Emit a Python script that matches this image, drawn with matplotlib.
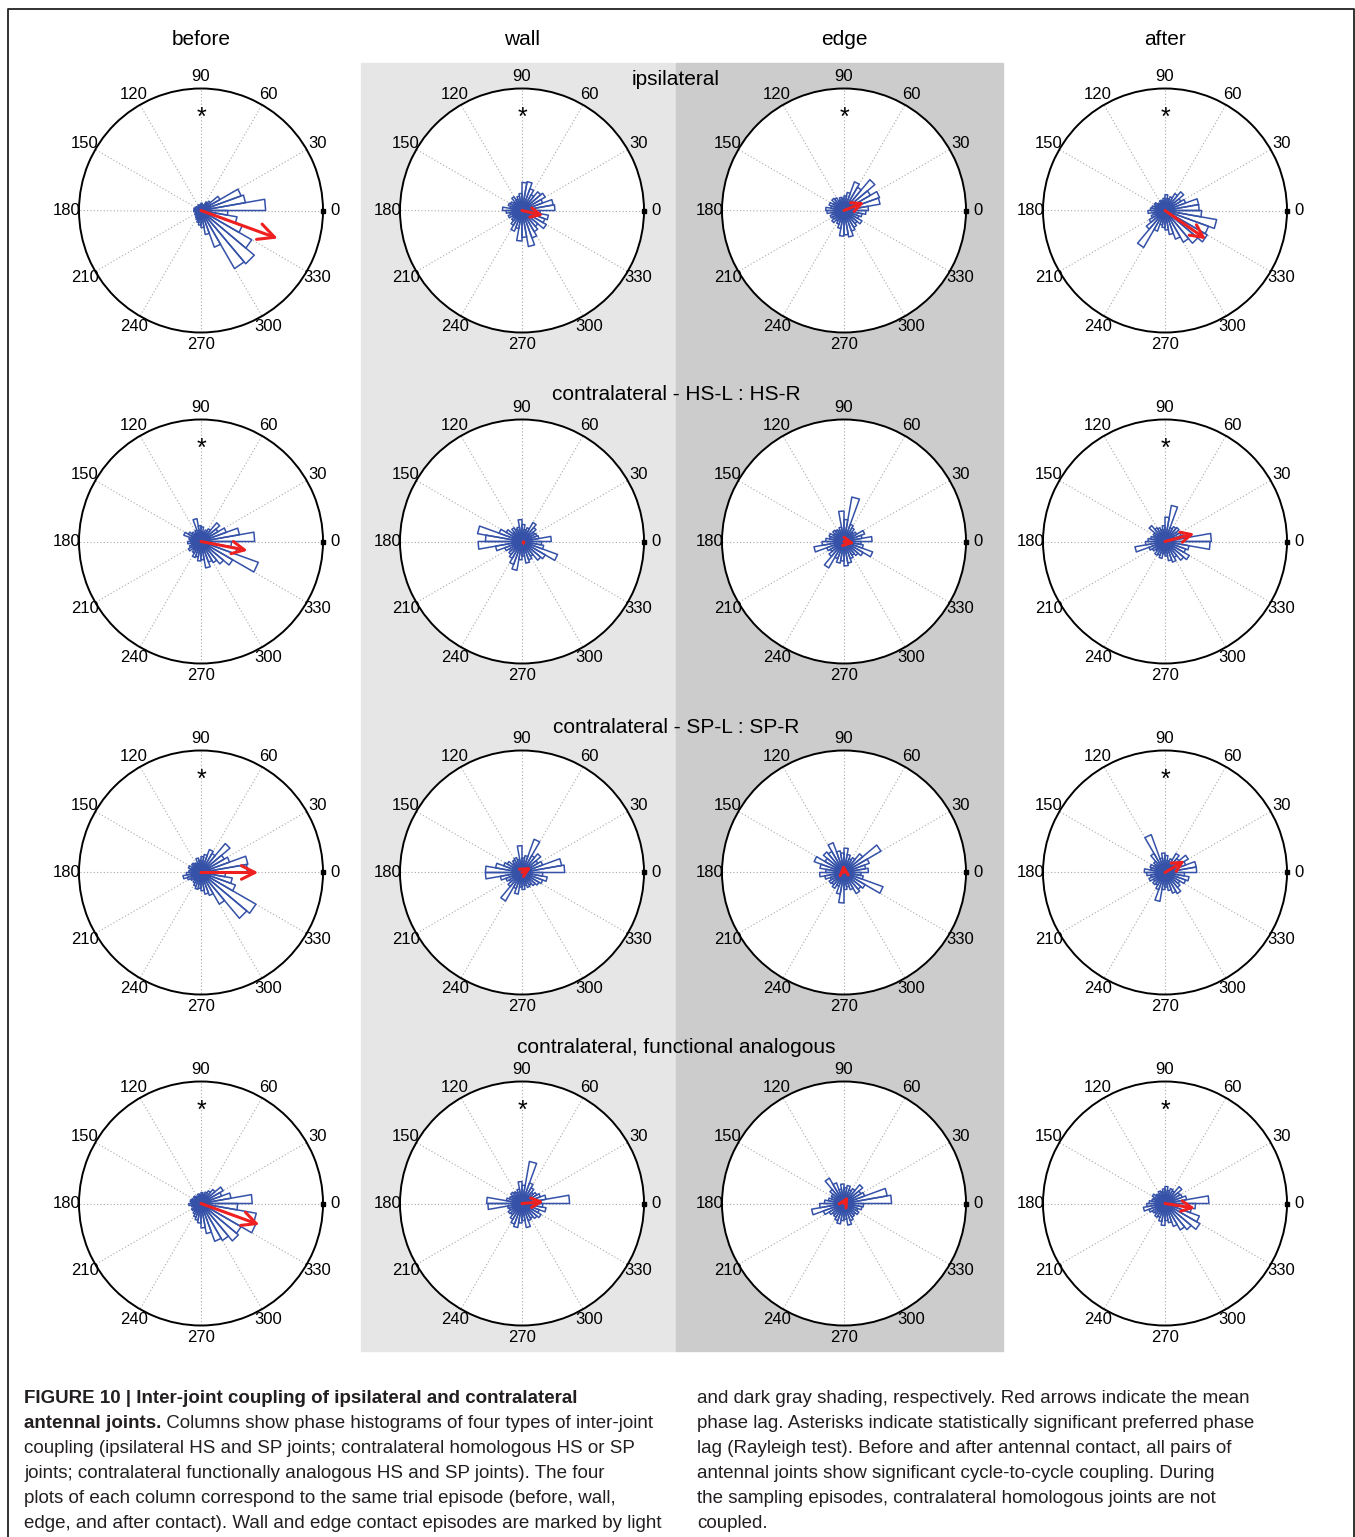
import numpy as np
import matplotlib
matplotlib.use('Agg')
import matplotlib.pyplot as plt
from matplotlib.lines import Line2D
from matplotlib.patches import Rectangle

plt.rcParams['font.family'] = ['Liberation Sans', 'DejaVu Sans']

W, H = 1355, 1537

columns = ['before', 'wall', 'edge', 'after']
row_titles = ['ipsilateral', 'contralateral - HS-L : HS-R',
              'contralateral - SP-L : SP-R', 'contralateral, functional analogous']

# rose histogram heights, 36 bins of 10 deg (bin k = 10k..10k+10 deg), fraction of max radius
ipsi_before = [0.53, 0.37, 0.35, 0.18, 0.10, 0.08, 0.05, 0.04, 0.06, 0.05, 0.04, 0.05,
               0.03, 0.04, 0.05, 0.04, 0.06, 0.05, 0.06, 0.04, 0.05, 0.06, 0.05, 0.07,
               0.08, 0.10, 0.12, 0.14, 0.20, 0.32, 0.55, 0.57, 0.48, 0.36, 0.30, 0.22]
ipsi_wall = [0.27, 0.26, 0.18, 0.22, 0.20, 0.15, 0.19, 0.24, 0.23, 0.14, 0.12, 0.10,
             0.13, 0.09, 0.11, 0.12, 0.10, 0.16, 0.13, 0.10, 0.12, 0.09, 0.11, 0.14,
             0.18, 0.15, 0.25, 0.22, 0.30, 0.24, 0.20, 0.17, 0.23, 0.20, 0.22, 0.15]
ipsi_edge = [0.20, 0.30, 0.31, 0.25, 0.33, 0.22, 0.25, 0.15, 0.12, 0.10, 0.11, 0.09,
             0.12, 0.13, 0.10, 0.13, 0.11, 0.15, 0.14, 0.10, 0.12, 0.11, 0.13, 0.10,
             0.12, 0.15, 0.21, 0.20, 0.22, 0.18, 0.16, 0.14, 0.17, 0.13, 0.15, 0.18]
ipsi_after = [0.28, 0.28, 0.18, 0.15, 0.20, 0.16, 0.12, 0.10, 0.13, 0.10, 0.08, 0.09,
              0.07, 0.08, 0.10, 0.09, 0.11, 0.12, 0.14, 0.10, 0.12, 0.15, 0.20, 0.35,
              0.18, 0.12, 0.14, 0.16, 0.20, 0.25, 0.30, 0.35, 0.40, 0.38, 0.43, 0.30]

hs_before = [0.44, 0.32, 0.22, 0.16, 0.20, 0.12, 0.10, 0.08, 0.12, 0.13, 0.19, 0.10,
             0.08, 0.10, 0.12, 0.15, 0.10, 0.09, 0.11, 0.08, 0.10, 0.12, 0.09, 0.11,
             0.14, 0.13, 0.16, 0.15, 0.22, 0.18, 0.20, 0.24, 0.30, 0.50, 0.30, 0.25]
hs_wall = [0.24, 0.14, 0.13, 0.12, 0.15, 0.18, 0.12, 0.10, 0.14, 0.18, 0.12, 0.11,
           0.13, 0.10, 0.15, 0.20, 0.37, 0.30, 0.36, 0.22, 0.15, 0.12, 0.14, 0.16,
           0.20, 0.24, 0.15, 0.12, 0.18, 0.16, 0.14, 0.20, 0.22, 0.31, 0.18, 0.16]
hs_edge = [0.23, 0.15, 0.18, 0.12, 0.10, 0.13, 0.15, 0.37, 0.18, 0.25, 0.12, 0.10,
           0.11, 0.12, 0.10, 0.13, 0.12, 0.15, 0.18, 0.25, 0.15, 0.13, 0.16, 0.25,
           0.15, 0.18, 0.16, 0.20, 0.18, 0.15, 0.13, 0.15, 0.18, 0.25, 0.16, 0.14]
hs_after = [0.38, 0.16, 0.14, 0.12, 0.15, 0.14, 0.12, 0.30, 0.20, 0.13, 0.10, 0.12,
            0.13, 0.17, 0.11, 0.10, 0.12, 0.14, 0.16, 0.25, 0.14, 0.12, 0.10, 0.13,
            0.12, 0.14, 0.10, 0.12, 0.16, 0.18, 0.15, 0.20, 0.23, 0.18, 0.20, 0.37]

sp_before = [0.38, 0.39, 0.25, 0.22, 0.31, 0.18, 0.20, 0.15, 0.13, 0.10, 0.12, 0.08,
             0.09, 0.10, 0.08, 0.11, 0.09, 0.10, 0.12, 0.15, 0.12, 0.10, 0.08, 0.10,
             0.12, 0.14, 0.13, 0.15, 0.18, 0.20, 0.30, 0.49, 0.52, 0.30, 0.26, 0.20]
sp_wall = [0.35, 0.33, 0.18, 0.15, 0.20, 0.16, 0.29, 0.14, 0.12, 0.22, 0.11, 0.13,
           0.12, 0.10, 0.14, 0.16, 0.22, 0.30, 0.30, 0.18, 0.14, 0.12, 0.15, 0.27,
           0.14, 0.18, 0.12, 0.14, 0.11, 0.13, 0.12, 0.14, 0.16, 0.18, 0.21, 0.17]
sp_edge = [0.20, 0.18, 0.22, 0.35, 0.20, 0.14, 0.12, 0.15, 0.20, 0.16, 0.18, 0.26,
           0.20, 0.22, 0.18, 0.26, 0.20, 0.15, 0.20, 0.16, 0.12, 0.14, 0.13, 0.15,
           0.12, 0.18, 0.25, 0.14, 0.12, 0.15, 0.20, 0.18, 0.20, 0.34, 0.16, 0.14]
sp_after = [0.26, 0.26, 0.18, 0.22, 0.15, 0.18, 0.12, 0.10, 0.14, 0.16, 0.12, 0.33,
            0.18, 0.12, 0.10, 0.13, 0.12, 0.17, 0.15, 0.12, 0.14, 0.11, 0.13, 0.12,
            0.15, 0.24, 0.14, 0.12, 0.15, 0.18, 0.20, 0.16, 0.14, 0.18, 0.20, 0.16]

fa_before = [0.42, 0.25, 0.18, 0.21, 0.15, 0.12, 0.10, 0.08, 0.09, 0.07, 0.08, 0.06,
             0.07, 0.08, 0.06, 0.08, 0.09, 0.08, 0.10, 0.08, 0.07, 0.09, 0.08, 0.10,
             0.12, 0.14, 0.16, 0.20, 0.25, 0.33, 0.35, 0.40, 0.38, 0.48, 0.46, 0.30]
fa_wall = [0.39, 0.20, 0.16, 0.14, 0.12, 0.15, 0.18, 0.35, 0.15, 0.18, 0.12, 0.10,
           0.11, 0.12, 0.10, 0.11, 0.13, 0.29, 0.28, 0.12, 0.11, 0.13, 0.12, 0.15,
           0.18, 0.20, 0.16, 0.14, 0.20, 0.15, 0.14, 0.16, 0.18, 0.15, 0.20, 0.17]
fa_edge = [0.39, 0.36, 0.18, 0.16, 0.20, 0.14, 0.12, 0.15, 0.13, 0.16, 0.12, 0.18,
           0.24, 0.15, 0.12, 0.11, 0.13, 0.16, 0.20, 0.27, 0.18, 0.14, 0.12, 0.13,
           0.15, 0.17, 0.14, 0.13, 0.18, 0.15, 0.13, 0.12, 0.14, 0.12, 0.15, 0.16]
fa_after = [0.36, 0.18, 0.15, 0.14, 0.18, 0.12, 0.13, 0.11, 0.14, 0.12, 0.10, 0.11,
            0.09, 0.10, 0.12, 0.10, 0.11, 0.13, 0.15, 0.18, 0.14, 0.12, 0.11, 0.13,
            0.12, 0.15, 0.18, 0.14, 0.16, 0.20, 0.25, 0.28, 0.33, 0.30, 0.22, 0.25]

hists = [[ipsi_before, ipsi_wall, ipsi_edge, ipsi_after],
         [hs_before, hs_wall, hs_edge, hs_after],
         [sp_before, sp_wall, sp_edge, sp_after],
         [fa_before, fa_wall, fa_edge, fa_after]]

# mean phase lag (deg) and vector length
mean_angle = [[-20, -13, 22, -35],
              [-11, 0, -10, 15],
              [0, 30, 95, 31],
              [-20, 5, 60, -9]]
mean_len = [[0.67, 0.18, 0.18, 0.41],
            [0.39, 0.01, 0.09, 0.25],
            [0.47, 0.09, 0.07, 0.19],
            [0.51, 0.18, 0.07, 0.25]]

# Rayleigh test significant
significant = [[True, True, True, True],
               [True, False, False, True],
               [True, False, False, True],
               [True, True, False, True]]

fig = plt.figure(figsize=(W / 100, H / 100), dpi=100)

def fx(x):
    return x / W

def fy(y):
    return 1 - (y + 1.5) / H

# frame and shading
fig.add_artist(Line2D([fx(8), fx(8), fx(1354), fx(1354)], [0, fy(7), fy(7), 0],
                      color='#222222', lw=1.3))
fig.add_artist(Rectangle((fx(361), fy(1349)), fx(676) - fx(361), fy(61) - fy(1349),
                         color='#e6e6e6', zorder=0))
fig.add_artist(Rectangle((fx(676), fy(1349)), fx(1003) - fx(676), fy(61) - fy(1349),
                         color='#cccccc', zorder=0))

cx = [201, 522, 844, 1165]
cy = [209, 540, 871, 1202]
R = 122
blue = '#3552a8'

for j, name in enumerate(columns):
    fig.text(fx(cx[j]), fy(38), name, ha='center', va='center', fontsize=15)
for i, t in enumerate(row_titles):
    ty = [78, 393, 726, 1046][i]
    fig.text(fx(676), fy(ty), t, ha='center', va='center', fontsize=15)

edges = np.deg2rad(np.arange(0, 370, 10))

for i in range(4):
    for j in range(4):
        ax = fig.add_axes([fx(cx[j] - R), fy(cy[i] + R), 2 * R / W, 2 * R / H],
                          projection='polar')
        ax.set_facecolor('white')
        ax.set_ylim(0, 1)
        ax.set_xticks([])
        ax.set_yticks([])
        ax.grid(False)
        ax.spines['polar'].set_color('black')
        ax.spines['polar'].set_linewidth(1.4)
        for deg in range(0, 360, 30):
            t = np.deg2rad(deg)
            ax.plot([t, t], [0, 1], ls=(0, (1, 2)), color='#a8a8a8', lw=0.8)
            ax.text(t, 1.1, str(deg), ha='center', va='center', fontsize=12,
                    clip_on=False)
        ax.plot(0, 1, 's', ms=2.5, color='black', clip_on=False)

        vals = hists[i][j]
        for k, r in enumerate(vals):
            ax.plot([edges[k], edges[k], edges[k + 1], edges[k + 1]], [0, r, r, 0],
                    color=blue, lw=1.1)

        a = np.deg2rad(mean_angle[i][j])
        L = mean_len[i][j]
        if L < 0.03:
            ax.plot(a, L, 's', ms=2, color='#ee2020')
        else:
            ax.annotate('', xy=(a, L), xytext=(0, 0),
                        arrowprops=dict(arrowstyle='->,head_length=1,head_width=0.5',
                                        color='#ee2020', lw=2.2, shrinkA=0, shrinkB=0,
                                        mutation_scale=5 + 10 * L))
        if significant[i][j]:
            ax.text(np.pi / 2, 0.76, '*', ha='center', va='center', fontsize=18)

# caption
cap_left = [
    [('FIGURE 10 | Inter-joint coupling of ipsilateral and contralateral', 'bold')],
    [('antennal joints.', 'bold'),
     (' Columns show phase histograms of four types of inter-joint', 'normal')],
    [('coupling (ipsilateral HS and SP joints; contralateral homologous HS or SP', 'normal')],
    [('joints; contralateral functionally analogous HS and SP joints). The four', 'normal')],
    [('plots of each column correspond to the same trial episode (before, wall,', 'normal')],
    [('edge, and after contact). Wall and edge contact episodes are marked by light', 'normal')],
]
cap_right = [
    'and dark gray shading, respectively. Red arrows indicate the mean',
    'phase lag. Asterisks indicate statistically significant preferred phase',
    'lag (Rayleigh test). Before and after antennal contact, all pairs of',
    'antennal joints show significant cycle-to-cycle coupling. During',
    'the sampling episodes, contralateral homologous joints are not',
    'coupled.',
]
cap_font = ['Liberation Sans', 'DejaVu Sans']
cap_size = 13.5
cap_color = '#231f20'
line_y = [1397, 1422, 1447, 1472, 1497, 1522]

renderer = fig.canvas.get_renderer()
for n, parts in enumerate(cap_left):
    x = 24
    for txt, w in parts:
        t = fig.text(fx(x), fy(line_y[n]), txt, ha='left', va='center', fontsize=cap_size,
                     fontweight=w, family=cap_font, color=cap_color)
        x += t.get_window_extent(renderer).width
for n, txt in enumerate(cap_right):
    fig.text(fx(697), fy(line_y[n]), txt, ha='left', va='center', fontsize=cap_size,
             family=cap_font, color=cap_color)

fig.savefig('out.png', dpi=100)
